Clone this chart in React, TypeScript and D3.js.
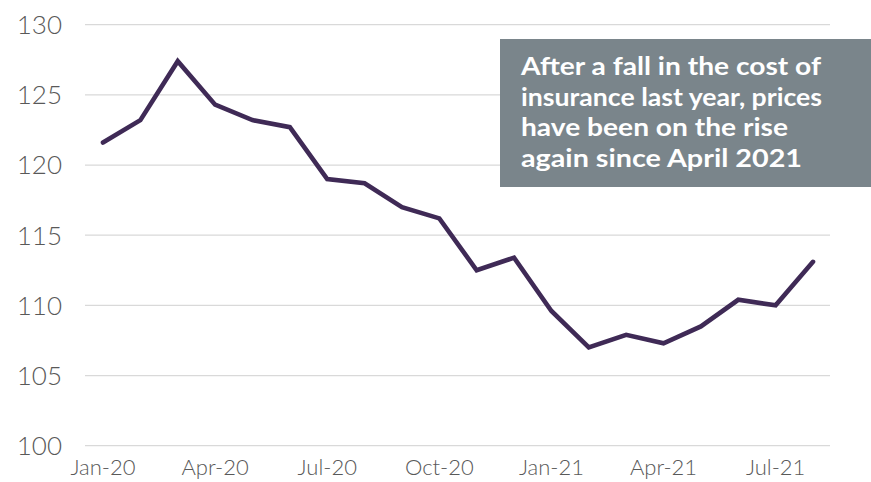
import React from "react";
import * as d3 from "d3";

const months = ["Jan-20","Feb-20","Mar-20","Apr-20","May-20","Jun-20","Jul-20","Aug-20","Sep-20","Oct-20","Nov-20","Dec-20","Jan-21","Feb-21","Mar-21","Apr-21","May-21","Jun-21","Jul-21","Aug-21"];
const values = [121.6,123.2,127.4,124.3,123.2,122.7,119.0,118.7,117.0,116.2,112.5,113.4,109.6,107.0,107.9,107.3,108.5,110.4,110.0,113.1];
const yTicks = [100,105,110,115,120,125,130];
const xTickLabels = ["Jan-20","Apr-20","Jul-20","Oct-20","Jan-21","Apr-21","Jul-21"];
const noteLines = ["After a fall in the cost of","insurance last year, prices","have been on the rise","again since April 2021"];
const noteWidths = [300, 301, 267, 281];

export default function App() {
  const W = 871, H = 482;
  const x = d3.scalePoint<string>().domain(months).range([103, 813]);
  const y = d3.scaleLinear().domain([100, 130]).range([445.7, 24.7]);
  const line = d3.line<number>().x((_, i) => x(months[i])!).y(d => y(d));
  const font = "Lato, 'DejaVu Sans', sans-serif";
  return (
    <svg width={W} height={H} style={{ position: "absolute", left: 0, top: 0 }}>
      <rect width={W} height={H} fill="#fff" />
      {yTicks.map(t => (
        <g key={t}>
          <line x1={85} x2={830} y1={y(t)} y2={y(t)} stroke="#d9d9d9" strokeWidth={1.3} />
          <text x={62} y={y(t)} dy="0.36em" textAnchor="end" fontFamily={font} fontWeight={300} fontSize={26} fill="#595959">{t}</text>
        </g>
      ))}
      {xTickLabels.map(l => (
        <text key={l} x={x(l)} y={475} textAnchor="middle" fontFamily={font} fontWeight={300} fontSize={22} fill="#595959">{l}</text>
      ))}
      <path d={line(values)!} fill="none" stroke="#3f2a56" strokeWidth={4.6} strokeLinejoin="miter" strokeLinecap="round" />
      <rect x={500} y={39} width={371} height={148} fill="#7a858b" />
      {noteLines.map((l, i) => (
        <text key={i} x={521} y={75 + i * 30.7} fontFamily={font} fontWeight="bold" fontSize={25} fill="#fff"
          textLength={noteWidths[i]} lengthAdjust="spacingAndGlyphs">{l}</text>
      ))}
    </svg>
  );
}
